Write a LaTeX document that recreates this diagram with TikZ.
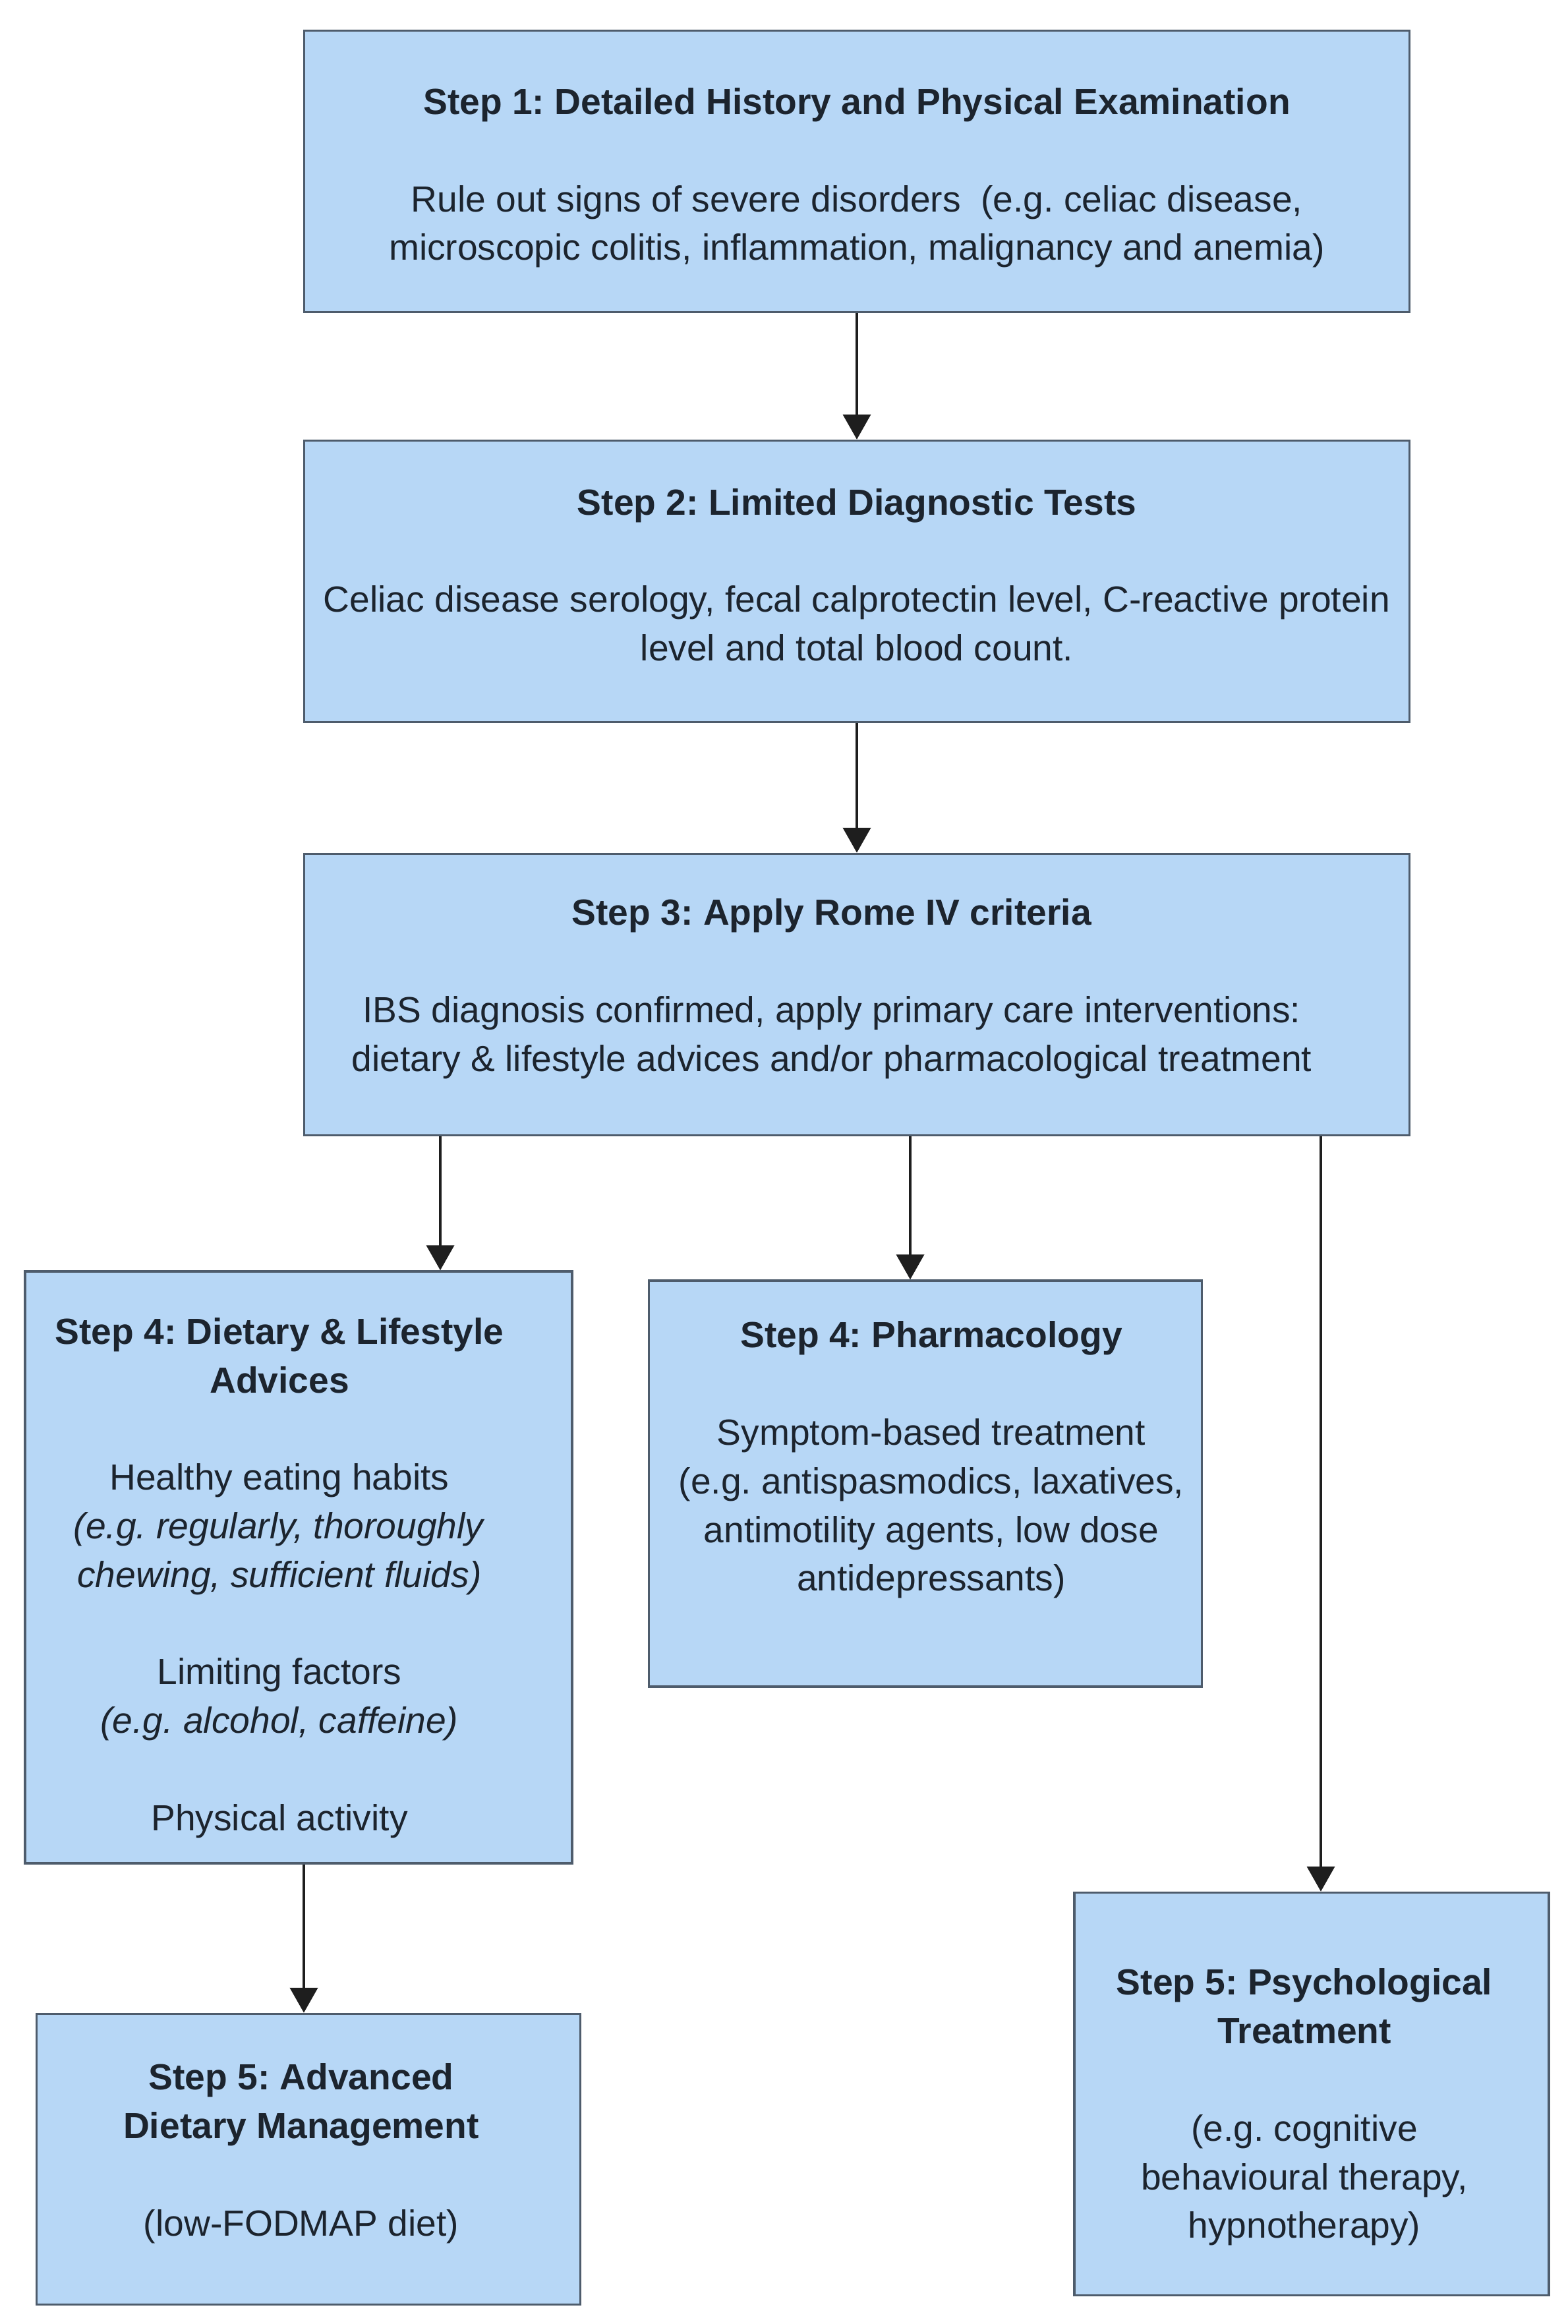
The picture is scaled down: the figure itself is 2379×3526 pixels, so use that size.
\documentclass[tikz,border=0pt]{standalone}
\usepackage{fontspec}
\setmainfont{Liberation Sans}
\usetikzlibrary{arrows.meta}
\frenchspacing

\definecolor{boxfill}{RGB}{183,215,246}
\definecolor{boxline}{RGB}{78,92,108}
\definecolor{boxtext}{RGB}{28,36,46}
\definecolor{arrowcol}{RGB}{30,30,30}

\tikzset{
  stepbox/.style={draw=boxline, line width=0.35mm, fill=boxfill, inner sep=0pt},
  steptext/.style={text=boxtext, align=center, inner sep=0pt,
    font=\fontsize{15.7}{21}\selectfont},
  flowarrow/.style={draw=arrowcol, line width=0.4mm,
    -{Triangle[width=4.2mm,length=3.8mm]}}
}

\begin{document}
\begin{tikzpicture}[x=0.1mm,y=-0.1mm]
    \useasboundingbox (0,0) rectangle (2379,3526);

    % Steps 1--3
    \node[stepbox, minimum width=167.7mm, minimum height=42.7mm] (step1) at (1300,260) {};
    \node[steptext, yshift=-1mm] (step1text) at (step1.center)
        {\textbf{Step 1: Detailed History and Physical Examination}\\[21pt]
         Rule out signs of severe disorders\ \ (e.g. celiac disease,\\
         microscopic colitis, inflammation, malignancy and anemia)};
    \node[stepbox, minimum width=167.7mm, minimum height=42.7mm] (step2) at (1300,882) {};
    \node[steptext, yshift=1mm] (step2text) at (step2.center)
        {\textbf{Step 2: Limited Diagnostic Tests}\\[21pt]
         Celiac disease serology, fecal calprotectin level, C-reactive protein\\
         level and total blood count.};
    \node[stepbox, minimum width=167.7mm, minimum height=42.7mm] (step3) at (1300,1509) {};
    \node[steptext, xshift=-3.8mm, yshift=0.9mm] (step3text) at (step3.center)
        {\textbf{Step 3: Apply Rome IV criteria}\\[21pt]
         IBS diagnosis confirmed, apply primary care interventions:\\
         dietary \& lifestyle advices and/or pharmacological treatment};

    % Step 4
    \node[stepbox, minimum width=83mm, minimum height=89.8mm] (diet) at (453,2378) {};
    \node[steptext, xshift=-2.9mm, yshift=-1.6mm] (diettext) at (diet.center)
        {\textbf{Step 4: Dietary \& Lifestyle}\\ \textbf{Advices}\\[21pt]
         Healthy eating habits\\
         \textit{(e.g. regularly, thoroughly}\\
         \textit{chewing, sufficient fluids)}\\[21pt]
         Limiting factors\\
         \textit{(e.g. alcohol, caffeine)}\\[21pt]
         Physical activity};
    \node[stepbox, minimum width=83.9mm, minimum height=61.6mm] (pharma) at (1404,2251) {};
    \node[steptext, xshift=0.9mm, yshift=3.6mm] (pharmatext) at (pharma.center)
        {\textbf{Step 4: Pharmacology}\\[21pt]
         Symptom-based treatment\\
         (e.g. antispasmodics, laxatives,\\
         antimotility agents, low dose\\
         antidepressants)};

    % Step 5
    \node[stepbox, minimum width=82.5mm, minimum height=44.1mm] (fodmap) at (468,3276) {};
    \node[steptext, xshift=-1.1mm, yshift=0.9mm] (fodmaptext) at (fodmap.center)
        {\textbf{Step 5: Advanced}\\ \textbf{Dietary Management}\\[21pt]
         (low-FODMAP diet)};
    \node[stepbox, minimum width=72mm, minimum height=61.1mm] (psych) at (1990,3177) {};
    \node[steptext, xshift=-1.1mm, yshift=-2mm] (psychtext) at (psych.center)
        {\textbf{Step 5: Psychological}\\ \textbf{Treatment}\\[21pt]
         (e.g. cognitive\\
         behavioural therapy,\\
         hypnotherapy)};

    % Arrows
    \coordinate (xdiet) at (668,1800);
    \coordinate (xpharma) at (1381,1800);
    \coordinate (xpsych) at (2004,1800);
    \coordinate (xfodmap) at (461,3000);
    \draw[flowarrow] (step1.south) -- (step2.north);
    \draw[flowarrow] (step2.south) -- (step3.north);
    \draw[flowarrow] (step3.south -| xdiet) -- (diet.north -| xdiet);
    \draw[flowarrow] (step3.south -| xpharma) -- (pharma.north -| xpharma);
    \draw[flowarrow] (step3.south -| xpsych) -- (psych.north -| xpsych);
    \draw[flowarrow] (diet.south -| xfodmap) -- (fodmap.north -| xfodmap);
\end{tikzpicture}
\end{document}
